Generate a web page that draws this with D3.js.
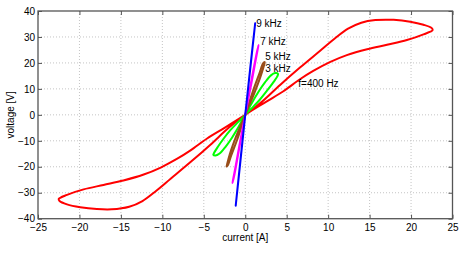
<!DOCTYPE html>
<html>
<head>
<meta charset="utf-8">
<script src="https://cdn.jsdelivr.net/npm/d3@7"></script>
<style>
  body { margin: 0; background: #fff; }
  text { font-family: "Liberation Sans", Arial, sans-serif; }
</style>
</head>
<body>
<script>
// hysteresis loops, current [A] vs voltage [V], one per frequency
var names = ['f=400 Hz', '3 kHz', '5 kHz', '7 kHz', '9 kHz'];
var colors = ['#ff0000', '#00ff00', '#994d1a', '#ff00ff', '#0000ff'];

// each loop goes through the origin: lobe in the first quadrant then lobe in the third
var red = [
  [0, 0], [2, 5], [4.2, 11.5], [6.6, 18.2], [9, 24.6], [10.8, 29.4], [12.4, 33.2], [14, 35.5],
  [15.7, 36.5], [17.9, 36.6], [19.9, 35.9], [21.5, 34.7], [22.5, 33.4], [22.6, 32.6],
  [21.5, 31], [19.5, 28.8], [17.1, 27], [14.7, 25.3], [12.25, 23], [10.2, 20.3], [8.2, 16.9],
  [6.6, 13.7], [4.6, 9.1], [2.5, 5], [0, 0],
  [-2, -5], [-4.2, -11.5], [-6.6, -18.2], [-9, -24.6], [-10.8, -29.4], [-12.4, -33.2], [-14, -35.4],
  [-16.1, -36.4], [-17.9, -36.3], [-19.9, -35.6], [-21.5, -34.5], [-22.4, -33.2], [-22.5, -32.4],
  [-21.5, -30.8], [-19.5, -28.7], [-17.1, -27], [-14.7, -25.3], [-12.25, -23], [-10.2, -20.3], [-8.2, -16.9],
  [-6.6, -13.7], [-4.6, -9.1], [-2.5, -5], [0, 0]
];
var green = [
  [0, 0], [0.8, 4.6], [1.6, 8.9], [2.4, 12.6], [3.1, 15.2], [3.6, 16.1], [3.95, 15.8],
  [3.9, 15], [3.4, 12.6], [2.6, 9.2], [1.8, 6.0], [0.9, 2.9], [0, 0],
  [-0.8, -4.6], [-1.6, -8.8], [-2.4, -12.4], [-3.1, -14.9], [-3.6, -15.7], [-3.85, -15.4],
  [-3.75, -14.6], [-3.3, -12.3], [-2.6, -9.1], [-1.8, -5.9], [-0.9, -2.9], [0, 0]
];
var brown = [
  [0, 0], [0.9, 8.9], [1.7, 15.9], [2.15, 19.8], [2.35, 20.3],
  [2.3, 19.5], [1.9, 15.3], [1.1, 8.4], [0, 0],
  [-0.9, -8.9], [-1.7, -15.7], [-2.1, -19.4], [-2.25, -19.9],
  [-2.2, -19.2], [-1.85, -15], [-1.1, -8.3], [0, 0]
];
var magenta = [
  [0, 0], [0.7, 12.6], [1.35, 23.4], [1.6, 26.9],
  [1.55, 26], [1.2, 20], [0.75, 12.2], [0, 0],
  [-0.7, -12.5], [-1.3, -23], [-1.53, -26.3],
  [-1.5, -25.5], [-1.15, -19.6], [-0.72, -12], [0, 0]
];
var blue = [
  [0, 0], [0.6, 17.6], [1.2, 35.3], [0.58, 17.4], [0, 0],
  [-0.58, -17.4], [-1.15, -35], [-0.56, -17.2], [0, 0]
];
var loops = [red, green, brown, magenta, blue];

// where each frequency label sits, in data units
var labelX = [6.4, 2.4, 2.4, 1.8, 1.33];
var labelY = [10.8, 16.5, 21.2, 26.9, 33.7];

var xTicks = [-25, -20, -15, -10, -5, 0, 5, 10, 15, 20, 25];
var yTicks = [-40, -30, -20, -10, 0, 10, 20, 30, 40];

var margin = {top: 11, right: 18.5, bottom: 37.3, left: 38},
    width = 471 - margin.left - margin.right,
    height = 256 - margin.top - margin.bottom;

var x = d3.scaleLinear().domain([-25, 25]).range([0, width]);
var y = d3.scaleLinear().domain([-40, 40]).range([height, 0]);

var svg = d3.select("body")
    .append("svg")
        .attr("width", 471)
        .attr("height", 256)
    .append("g")
        .attr("transform", "translate(" + margin.left + "," + margin.top + ")");

// dotted grid
svg.selectAll(".gx")
    .data(xTicks.slice(1, -1))
  .enter().append("line")
    .attr("x1", function(d) { return x(d); })
    .attr("x2", function(d) { return x(d); })
    .attr("y1", 0).attr("y2", height)
    .attr("stroke", "#c4c4c4")
    .attr("stroke-dasharray", "1,2");
svg.selectAll(".gy")
    .data(yTicks.slice(1, -1))
  .enter().append("line")
    .attr("y1", function(d) { return y(d); })
    .attr("y2", function(d) { return y(d); })
    .attr("x1", 0).attr("x2", width)
    .attr("stroke", "#c4c4c4")
    .attr("stroke-dasharray", "1,2");

// axes with inward ticks on all four sides
function style(g) {
  g.select(".domain").remove();
  g.selectAll("line").attr("stroke", "#555");
  g.selectAll("text").attr("fill", "#000").style("font-size", "10px")
    .attr("font-family", "Liberation Sans, Arial, sans-serif");
}
svg.append("g")
    .attr("transform", "translate(0," + height + ")")
    .call(d3.axisBottom(x).tickValues(xTicks).tickSize(-4).tickPadding(5))
    .call(style);
svg.append("g")
    .call(d3.axisLeft(y).tickValues(yTicks).tickSize(-4).tickPadding(3))
    .call(style);
svg.append("g")
    .call(d3.axisTop(x).tickValues(xTicks).tickSize(-4).tickFormat(""))
    .call(style);
svg.append("g")
    .attr("transform", "translate(" + width + ",0)")
    .call(d3.axisRight(y).tickValues(yTicks).tickSize(-4).tickFormat(""))
    .call(style);

svg.append("rect")
    .attr("width", width).attr("height", height)
    .attr("fill", "none")
    .attr("stroke", "#555")
    .attr("stroke-width", 1.3);

// the loops
var line = d3.line()
    .x(function(d) { return x(d[0]); })
    .y(function(d) { return y(d[1]); })
    .curve(d3.curveCatmullRom.alpha(0.5));

svg.selectAll(".loop")
    .data(loops)
  .enter().append("path")
    .attr("d", line)
    .attr("fill", "none")
    .attr("stroke", function(d, i) { return colors[i]; })
    .attr("stroke-width", 2)
    .attr("stroke-linejoin", "round");

svg.selectAll(".lbl")
    .data(names)
  .enter().append("text")
    .text(function(d) { return d; })
    .attr("x", function(d, i) { return x(labelX[i]); })
    .attr("y", function(d, i) { return y(labelY[i]); })
    .style("font-size", "10px")
    .style("fill", "#000");

svg.append("text")
    .text("current [A]")
    .attr("text-anchor", "middle")
    .attr("x", x(0))
    .attr("y", height + 22.5)
    .style("font-size", "10px");

svg.append("text")
    .text("voltage [V]")
    .attr("text-anchor", "middle")
    .attr("transform", "translate(" + (14 - margin.left) + "," + y(0) + ") rotate(-90)")
    .style("font-size", "10px");
</script>
</body>
</html>
